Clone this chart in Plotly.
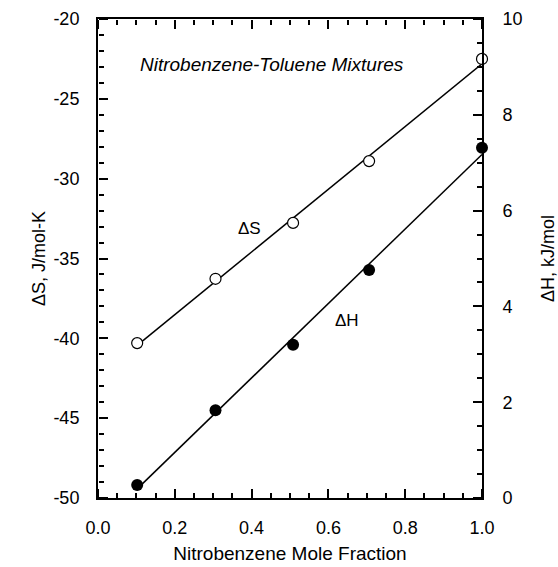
import numpy as np
import plotly.graph_objects as go

# Data
mole_fraction = [0.102, 0.306, 0.508, 0.706, 1.0]
dS = [-40.3, -36.27, -32.77, -28.9, -22.5]          # J/mol-K (left axis)
dH = [0.27, 1.83, 3.20, 4.76, 7.31]                 # kJ/mol (right axis)

x_ticks = [0.0, 0.2, 0.4, 0.6, 0.8, 1.0]
x_ticklabels = ["0.0", "0.2", "0.4", "0.6", "0.8", "1.0"]
s_ticks = [-50, -45, -40, -35, -30, -25, -20]
s_ticklabels = ["-50", "-45", "-40", "-35", "-30", "-25", "-20"]
h_ticks = [0, 2, 4, 6, 8, 10]
h_ticklabels = ["0", "2", "4", "6", "8", "10"]

X_RANGE = [0, 1.0]
S_RANGE = [-50, -20]
H_RANGE = [0, 10]

FONT = "Liberation Sans, Arial, sans-serif"

xs = np.array(mole_fraction)
pS = np.polyfit(xs, dS, 1)
pH = np.polyfit(xs, dH, 1)
xfit = np.array([xs.min(), xs.max()])

fig = go.Figure()
fig.add_trace(go.Scatter(x=xfit, y=np.polyval(pS, xfit), mode="lines",
                         line=dict(color="black", width=1.5), showlegend=False))
fig.add_trace(go.Scatter(x=xfit, y=np.polyval(pH, xfit), mode="lines", yaxis="y2",
                         line=dict(color="black", width=1.5), showlegend=False))
fig.add_trace(go.Scatter(x=mole_fraction, y=dS, mode="markers",
                         marker=dict(symbol="circle", size=11, color="white",
                                     line=dict(color="black", width=1.2)),
                         showlegend=False, cliponaxis=False))
fig.add_trace(go.Scatter(x=mole_fraction, y=dH, mode="markers", yaxis="y2",
                         marker=dict(symbol="circle", size=12, color="black",
                                     line=dict(color="black", width=0)),
                         showlegend=False, cliponaxis=False))

# invisible carrier traces so the tick-only axes (ticks pointing into the plot) get drawn
for xa, ya, yv in [("x", "y3", dS), ("x", "y4", dH), ("x2", "y", dS), ("x3", "y", dS)]:
    fig.add_trace(go.Scatter(x=mole_fraction, y=yv, xaxis=xa, yaxis=ya, mode="markers",
                             marker=dict(opacity=0), hoverinfo="skip", showlegend=False))

line_ax = dict(ticks="", showline=True, linewidth=2, linecolor="black",
               showgrid=False, zeroline=False, automargin=False)


def tick_ax(rng, vals, minor_dtick):
    return dict(range=rng, tickmode="array", tickvals=vals, showticklabels=False,
                ticks="outside", ticklen=9, tickwidth=2, tickcolor="black",
                showline=False, showgrid=False, zeroline=False, automargin=False,
                minor=dict(dtick=minor_dtick, ticks="outside", ticklen=5, tickwidth=2,
                           tickcolor="black", showgrid=False))


fig.update_layout(
    width=558, height=567,
    margin=dict(l=98, r=76, t=19, b=69),
    paper_bgcolor="white", plot_bgcolor="white",
    font=dict(family=FONT, size=18, color="black"),
    xaxis=dict(range=X_RANGE, tickmode="array", tickvals=x_ticks, ticktext=x_ticklabels,
               mirror=True, ticklabelstandoff=12,
               title=dict(text="Nitrobenzene Mole Fraction", standoff=10,
                          font=dict(size=19)),
               **line_ax),
    yaxis=dict(range=S_RANGE, tickmode="array", tickvals=s_ticks, ticktext=s_ticklabels,
               ticklabelstandoff=13,
               title=dict(text="ΔS, J/mol-K", standoff=3, font=dict(size=18)),
               **line_ax),
    yaxis2=dict(range=H_RANGE, tickmode="array", tickvals=h_ticks, ticktext=h_ticklabels,
                overlaying="y", side="right", ticklabelstandoff=15,
                title=dict(text="ΔH, kJ/mol", standoff=28, font=dict(size=18)),
                **line_ax),
    yaxis3=dict(overlaying="y", anchor="free", position=0, side="right",
                **tick_ax(S_RANGE, s_ticks, 1)),
    yaxis4=dict(overlaying="y", anchor="free", position=1, side="left",
                **tick_ax(H_RANGE, h_ticks, 0.5)),
    xaxis2=dict(overlaying="x", anchor="free", position=0, side="top",
                **tick_ax(X_RANGE, x_ticks, 0.05)),
    xaxis3=dict(overlaying="x", anchor="free", position=1, side="bottom",
                **tick_ax(X_RANGE, x_ticks, 0.05)),
    annotations=[
        dict(x=0.452, y=-22.875, xref="x", yref="y", text="<i>Nitrobenzene-Toluene Mixtures</i>",
             showarrow=False, font=dict(size=19)),
        dict(x=0.395, y=-33.1, xref="x", yref="y", text="ΔS",
             showarrow=False, font=dict(size=17)),
        dict(x=0.649, y=-38.9, xref="x", yref="y", text="ΔH",
             showarrow=False, font=dict(size=17)),
    ],
)

fig.write_html("out.html")
